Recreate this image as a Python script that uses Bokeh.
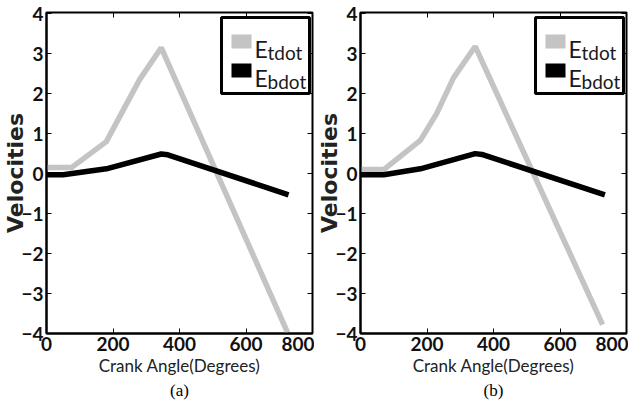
from bokeh.plotting import figure
from bokeh.models import (LinearAxis, Range1d, FixedTicker, BoxAnnotation, Label,
                          Title, CustomJSTickFormatter)
from bokeh.layouts import row
from bokeh.embed import file_html
from bokeh.resources import INLINE

# ---------------- data ----------------
x_ticks = [0, 200, 400, 600, 800]
y_ticks = [-4, -3, -2, -1, 0, 1, 2, 3, 4]

# panel (a)
a_etdot_x = [0, 75, 180, 225, 280, 345, 725]
a_etdot_y = [0.15, 0.15, 0.8, 1.5, 2.35, 3.15, -3.98]
a_ebdot_x = [0, 50, 180, 345, 365, 728]
a_ebdot_y = [-0.03, -0.03, 0.12, 0.49, 0.47, -0.53]

# panel (b)
b_etdot_x = [0, 70, 180, 229, 280, 345, 728]
b_etdot_y = [0.1, 0.1, 0.83, 1.5, 2.4, 3.18, -3.78]
b_ebdot_x = [0, 70, 180, 345, 365, 735]
b_ebdot_y = [-0.03, -0.03, 0.12, 0.5, 0.48, -0.53]

legend_main = "E"
legend_subs = ["tdot", "bdot"]
xlabel = "Crank Angle(Degrees)"
ylabel = "Velocities"
captions = ["(a)", "(b)"]

GREY = "#c4c4c4"
SANS = "Lato"
B_TOP = 12
B_BOTTOM = 70
FRAME_H = 321
FRAME_W = 266


def make_panel(tx, ty, bx, by, caption, b_left, b_right, lab_standoff):
    p = figure(frame_width=FRAME_W, frame_height=FRAME_H,
               x_range=Range1d(0, 800), y_range=Range1d(-4, 4.03),
               output_backend="svg", toolbar_location=None,
               min_border_left=b_left, min_border_right=b_right,
               min_border_top=B_TOP, min_border_bottom=B_BOTTOM)
    p.background_fill_color = "white"
    p.border_fill_color = "white"
    p.outline_line_color = "black"
    p.outline_line_width = 2
    p.xgrid.visible = False
    p.ygrid.visible = False

    for ax in (p.xaxis[0], p.yaxis[0]):
        ax.axis_line_width = 2
        ax.axis_line_color = "black"
        ax.major_tick_in = 5
        ax.major_tick_out = 0
        ax.major_tick_line_color = "black"
        ax.minor_tick_line_color = None
        ax.major_label_text_font = SANS
        ax.major_label_text_font_style = "bold"
        ax.major_label_text_font_size = "19px"
        ax.major_label_text_color = "#111111"
    p.xaxis.major_label_standoff = 3
    p.yaxis.major_label_standoff = 3

    p.xaxis.ticker = FixedTicker(ticks=x_ticks)
    p.yaxis.ticker = FixedTicker(ticks=y_ticks)

    p.xaxis.axis_label = xlabel
    p.xaxis.axis_label_text_font = SANS
    p.xaxis.axis_label_text_font_style = "normal"
    p.xaxis.axis_label_text_font_size = "17px"
    p.xaxis.axis_label_text_color = "#222222"
    p.xaxis.axis_label_standoff = 1

    p.yaxis.axis_label = ylabel
    p.yaxis.axis_label_text_font = "DejaVu Sans"
    p.yaxis.axis_label_text_font_style = "bold"
    p.yaxis.axis_label_text_font_size = "22px"
    p.yaxis.axis_label_text_color = "#222222"
    p.yaxis.axis_label_standoff = lab_standoff

    # box ticks on top and right (MATLAB style)
    blank = CustomJSTickFormatter(code="return ''")
    top = LinearAxis(ticker=FixedTicker(ticks=x_ticks), formatter=blank)
    right = LinearAxis(ticker=FixedTicker(ticks=y_ticks), formatter=blank)
    for ax in (top, right):
        ax.axis_line_color = None
        ax.major_tick_in = 5
        ax.major_tick_out = 0
        ax.minor_tick_line_color = None
        ax.major_label_standoff = -8
        ax.major_label_text_font_size = "1px"
    p.add_layout(top, "above")
    p.add_layout(right, "right")

    p.line(tx, ty, line_color=GREY, line_width=5.5)
    p.line(bx, by, line_color="black", line_width=5.5)

    # legend (manual, to allow subscripts); screen units from frame bottom-left
    lw, lh = 88, 76
    lright = FRAME_W - 3
    ltop = FRAME_H - 5
    lleft = lright - lw
    p.add_layout(BoxAnnotation(left=lleft, right=lright, top=ltop, bottom=ltop - lh,
                               left_units="screen", right_units="screen",
                               top_units="screen", bottom_units="screen",
                               fill_color="white", fill_alpha=1,
                               line_color="black", line_alpha=1, line_width=3))
    for i, (col, sub) in enumerate(zip([GREY, "black"], legend_subs)):
        sq_top = ltop - 17 - i * 29
        p.add_layout(BoxAnnotation(left=lleft + 10, right=lleft + 30,
                                   top=sq_top, bottom=sq_top - 14,
                                   left_units="screen", right_units="screen",
                                   top_units="screen", bottom_units="screen",
                                   fill_color=col, fill_alpha=1, line_color=None))
        base = sq_top - 14
        p.add_layout(Label(x=lleft + 33, y=base, x_units="screen", y_units="screen",
                           text=legend_main, text_font=SANS, text_font_size="23px",
                           text_color="#1a1a1a", text_baseline="alphabetic"))
        p.add_layout(Label(x=lleft + 46, y=base - 4, x_units="screen", y_units="screen",
                           text=sub, text_font=SANS, text_font_size="19px",
                           text_color="#1a1a1a", text_baseline="alphabetic"))

    # sub-figure caption under the axis label
    t = Title(text=caption, align="center", text_font="Liberation Serif",
              text_font_size="17px", text_font_style="normal", text_color="black",
              standoff=0, offset=0)
    p.add_layout(t, "below")
    return p


pa = make_panel(a_etdot_x, a_etdot_y, a_ebdot_x, a_ebdot_y, captions[0], 39, 2, -10)
pb = make_panel(b_etdot_x, b_etdot_y, b_ebdot_x, b_ebdot_y, captions[1], 39, 2, -10)

layout = row(pa, pb)
open("out.html", "w").write(file_html(layout, INLINE))
